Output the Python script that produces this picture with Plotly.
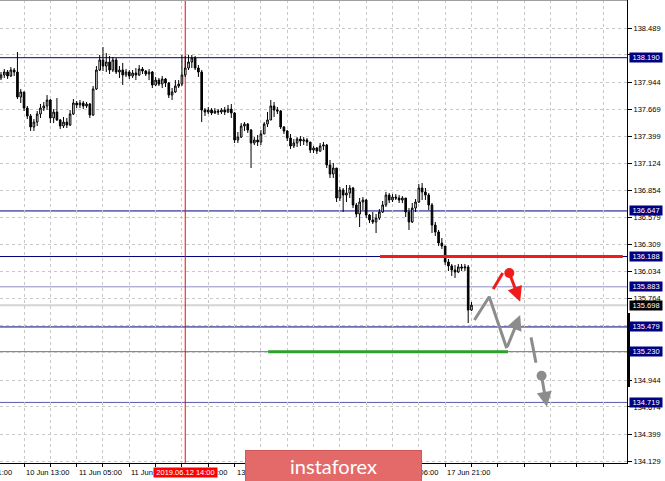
import plotly.graph_objects as go

# ---------------- data ----------------
first_open = 137.986
closes = [138.016, 138.046, 138.006, 138.066, 138.046, 137.794, 137.845, 137.683, 137.603, 137.492,
          137.542, 137.623, 137.683, 137.704, 137.764, 137.583, 137.643, 137.563, 137.502, 137.542,
          137.512, 137.623, 137.734, 137.714, 137.734, 137.704, 137.724, 137.613, 137.875, 138.066,
          138.167, 138.106, 138.147, 138.066, 138.167, 138.046, 138.066, 138.016, 138.046, 138.006,
          138.036, 138.016, 138.076, 138.056, 138.026, 138.046, 137.915, 137.965, 137.925, 137.976,
          137.935, 137.814, 137.845, 137.905, 137.925, 138.016, 138.086, 138.147, 138.187, 138.086,
          138.046, 137.663, 137.643, 137.663, 137.633, 137.653, 137.643, 137.663, 137.643, 137.673,
          137.633, 137.361, 137.391, 137.502, 137.522, 137.462, 137.331, 137.361, 137.341, 137.422,
          137.522, 137.563, 137.704, 137.663, 137.653, 137.492, 137.452, 137.381, 137.301, 137.331,
          137.371, 137.351, 137.361, 137.341, 137.260, 137.281, 137.250, 137.301, 137.311, 137.110,
          137.019, 137.079, 136.777, 136.858, 136.807, 136.827, 136.878, 136.707, 136.616, 136.737,
          136.757, 136.606, 136.556, 136.536, 136.576, 136.636, 136.707, 136.807, 136.757, 136.787,
          136.777, 136.757, 136.777, 136.636, 136.536, 136.676, 136.737, 136.878, 136.838, 136.807,
          136.707, 136.505, 136.435, 136.324, 136.294, 136.133, 136.093, 136.052, 136.032, 136.083,
          136.072, 136.083, 135.649, 135.698]
highs = [138.046, 138.076, 138.066, 138.096, 138.086, 138.247, 137.875, 137.845, 137.704, 137.623,
         137.573, 137.653, 137.724, 137.744, 137.814, 137.774, 137.673, 137.784, 137.573, 137.593,
         137.583, 137.663, 137.774, 137.754, 137.764, 137.754, 137.744, 137.734, 137.905, 138.106,
         138.217, 138.298, 138.237, 138.207, 138.197, 138.187, 138.106, 138.137, 138.076, 138.066,
         138.066, 138.086, 138.116, 138.096, 138.066, 138.076, 138.056, 137.996, 137.986, 138.006,
         137.986, 137.945, 137.885, 137.965, 137.965, 138.217, 138.207, 138.217, 138.217, 138.207,
         138.116, 138.066, 137.683, 137.694, 137.683, 137.683, 137.673, 137.683, 137.694, 137.714,
         137.724, 137.643, 137.442, 137.532, 137.542, 137.532, 137.472, 137.391, 137.412, 137.462,
         137.542, 137.643, 137.764, 137.744, 137.694, 137.663, 137.502, 137.462, 137.422, 137.371,
         137.391, 137.401, 137.391, 137.381, 137.331, 137.301, 137.291, 137.331, 137.341, 137.321,
         137.160, 137.130, 137.079, 136.888, 136.878, 136.908, 136.908, 136.888, 136.727, 136.777,
         136.787, 136.767, 136.616, 136.636, 136.616, 136.666, 136.747, 136.838, 136.827, 136.817,
         136.817, 136.807, 136.797, 136.777, 136.676, 136.727, 136.767, 136.918, 136.928, 136.878,
         136.827, 136.727, 136.536, 136.455, 136.374, 136.294, 136.163, 136.113, 136.103, 136.113,
         136.113, 136.113, 136.103, 135.730]
lows = [137.965, 137.986, 137.976, 137.996, 138.006, 137.774, 137.734, 137.653, 137.573, 137.452,
        137.452, 137.502, 137.583, 137.653, 137.663, 137.532, 137.532, 137.553, 137.472, 137.482,
        137.482, 137.502, 137.613, 137.683, 137.683, 137.673, 137.683, 137.583, 137.603, 137.865,
        138.056, 138.056, 138.046, 138.026, 138.046, 138.026, 137.986, 137.915, 137.996, 137.976,
        137.986, 137.965, 138.006, 138.026, 138.006, 137.965, 137.885, 137.905, 137.905, 137.885,
        137.895, 137.784, 137.764, 137.835, 137.885, 137.905, 137.996, 138.066, 138.086, 138.066,
        137.996, 137.542, 137.603, 137.623, 137.613, 137.623, 137.613, 137.623, 137.613, 137.633,
        137.583, 137.331, 137.331, 137.381, 137.452, 137.432, 137.079, 137.311, 137.301, 137.311,
        137.422, 137.492, 137.563, 137.593, 137.623, 137.472, 137.422, 137.351, 137.271, 137.281,
        137.291, 137.301, 137.311, 137.301, 137.230, 137.230, 137.220, 137.240, 137.260, 137.079,
        136.979, 136.979, 136.737, 136.747, 136.636, 136.737, 136.777, 136.676, 136.586, 136.485,
        136.656, 136.576, 136.525, 136.516, 136.425, 136.556, 136.626, 136.687, 136.727, 136.737,
        136.757, 136.727, 136.727, 136.586, 136.455, 136.525, 136.636, 136.727, 136.757, 136.757,
        136.656, 136.425, 136.394, 136.294, 136.264, 136.103, 136.042, 135.992, 135.972, 136.022,
        136.042, 136.042, 135.518, 135.639]
opens = [first_open] + closes[:-1]
bars = list(range(len(closes)))

y_tick_vals = [138.489, 138.219, 137.944, 137.669, 137.399, 137.124, 136.854, 136.579, 136.309,
               136.034, 135.764, 135.494, 135.219, 134.944, 134.674, 134.399, 134.129]
y_tick_text = ["138.489", "", "137.944", "137.669", "137.399", "137.124", "136.854", "136.579",
               "136.309", "136.034", "135.764", "", "", "134.944", "134.674", "134.399", "134.129"]

x_label_bars = [-9, 7, 23, 39, 55, 71, 119, 135]
x_label_text = ["9 Jun 21:00", "10 Jun 13:00", "11 Jun 05:00", "11 Jun 21:00", "12 Jun 13:00",
                "13 Jun 05:00", "17 Jun 06:00", "17 Jun 21:00"]

levels = [138.190, 136.647, 136.188, 135.883, 135.479, 135.230, 134.719]
level_colors = ["#000080", "#000080", "#000080", "#8c8cc8", "#000080", "#6a6ab4", "#5a5aa8"]

current_price = 135.698
marker_bar = 56
marker_label = "2019.06.12 14:00"
logo_text = "instaforex"

resistance_price, resistance_from = 136.188, 115.2
support_price, support_from, support_to = 135.230, 81.2, 154.1

gray_path_x = [143.9, 148.4, 153.7]
gray_path_y = [135.549, 135.783, 135.264]
gray_arrow1 = (153.7, 135.264, 157.8, 135.599)
gray_seg = ([161.1, 162.6], [135.374, 135.119])
gray_dot = (164.3, 134.988)
gray_arrow2 = (164.3, 134.988, 165.9, 134.676)
red_seg = ([149.6, 152.5], [135.861, 136.022])
red_dot = (154.5, 136.022)
red_arrow = (154.5, 136.022, 157.8, 135.733)

# ---------------- figure ----------------
XMIN, XMAX = -0.304, 190.27
YMIN, YMAX = 134.109, 138.771
FONT = "Liberation Sans"
GRAY = "#8c8c8c"
RED = "#f01c1c"

highs = [max(h, o, c) for h, o, c in zip(highs, opens, closes)]
lows = [min(l, o, c) for l, o, c in zip(lows, opens, closes)]

fig = go.Figure()

shapes = []
for lv, col in zip(levels, level_colors):
    shapes.append(dict(type="line", xref="paper", x0=0, x1=1, yref="y", y0=lv, y1=lv,
                       line=dict(color=col, width=1), layer="below"))
shapes.append(dict(type="line", xref="paper", x0=0, x1=1, yref="y", y0=current_price, y1=current_price,
                   line=dict(color="#d4d4d4", width=2), layer="below"))
shapes.append(dict(type="line", xref="x", x0=marker_bar, x1=marker_bar, yref="paper", y0=0, y1=1,
                   line=dict(color="#ff0000", width=1), layer="below"))
shapes.append(dict(type="line", xref="x", x0=resistance_from, x1=189.0, yref="y",
                   y0=resistance_price, y1=resistance_price, line=dict(color=RED, width=3)))
shapes.append(dict(type="line", xref="x", x0=support_from, x1=support_to, yref="y",
                   y0=support_price, y1=support_price, line=dict(color="#2ca02c", width=3)))
# top border
shapes.append(dict(type="line", xref="paper", x0=0, x1=1, yref="paper", y0=1, y1=1,
                   line=dict(color="#a0a0a0", width=2)))
# black bar on the price scale
shapes.append(dict(type="line", xref="paper", x0=1 + 1.5 / 627, x1=1 + 1.5 / 627, yref="y",
                   y0=135.619, y1=134.874, line=dict(color="#000000", width=3)))

fig.add_trace(go.Candlestick(
    x=bars, open=opens, high=highs, low=lows, close=closes,
    increasing=dict(line=dict(color="#000000", width=1), fillcolor="#ffffff"),
    decreasing=dict(line=dict(color="#000000", width=1), fillcolor="#000000"),
    whiskerwidth=0, hoverinfo="skip", showlegend=False))

fig.add_trace(go.Scatter(x=gray_path_x, y=gray_path_y, mode="lines",
                         line=dict(color=GRAY, width=3), hoverinfo="skip", showlegend=False))
fig.add_trace(go.Scatter(x=gray_seg[0], y=gray_seg[1], mode="lines",
                         line=dict(color=GRAY, width=3), hoverinfo="skip", showlegend=False))
fig.add_trace(go.Scatter(x=red_seg[0], y=red_seg[1], mode="lines",
                         line=dict(color=RED, width=3), hoverinfo="skip", showlegend=False))
fig.add_trace(go.Scatter(x=[gray_dot[0]], y=[gray_dot[1]], mode="markers",
                         marker=dict(color=GRAY, size=10), hoverinfo="skip", showlegend=False))
fig.add_trace(go.Scatter(x=[red_dot[0]], y=[red_dot[1]], mode="markers",
                         marker=dict(color=RED, size=10), hoverinfo="skip", showlegend=False))

annotations = []
for (x0, y0, x1, y1), col in [(gray_arrow1, GRAY), (gray_arrow2, GRAY), (red_arrow, RED)]:
    annotations.append(dict(x=x1, y=y1, ax=x0, ay=y0, xref="x", yref="y", axref="x", ayref="y",
                            text="", showarrow=True, arrowhead=2, arrowsize=1, arrowwidth=3,
                            arrowcolor=col, standoff=0, startstandoff=0))

for lv in levels:
    annotations.append(dict(xref="paper", x=1, xanchor="left", xshift=2, yref="y", y=lv,
                            text=f"{lv:.3f}", showarrow=False, bgcolor="#000080",
                            font=dict(family=FONT, size=7.5, color="#ffffff"),
                            width=31, height=8, borderpad=0.5, align="center"))
annotations.append(dict(xref="paper", x=1, xanchor="left", xshift=2, yref="y", y=current_price,
                        text=f"{current_price:.3f}", showarrow=False, bgcolor="#000000",
                        font=dict(family=FONT, size=7.5, color="#ffffff"),
                        width=31, height=8, borderpad=0.5, align="center"))

for b, t in zip(x_label_bars, x_label_text):
    annotations.append(dict(xref="paper", x=(b - XMIN) / (XMAX - XMIN), xanchor="left",
                            yref="paper", y=-9 / 463, yanchor="middle", text=t, showarrow=False,
                            font=dict(family=FONT, size=7.5, color="#000000")))
annotations.append(dict(xref="x", x=marker_bar, xanchor="center", yref="paper", y=-9.5 / 463,
                        yanchor="middle", text=marker_label, showarrow=False, bgcolor="#ff0000",
                        font=dict(family=FONT, size=7.5, color="#ffffff"), width=62, height=8,
                        borderpad=0.5))
annotations.append(dict(xref="paper", x=333.5 / 627, xanchor="center", yref="paper",
                        y=-2.5 / 463, yanchor="middle", text=logo_text, showarrow=False,
                        bgcolor="#e46a6a", bordercolor="#d05858", borderwidth=1, borderpad=0,
                        width=175, height=30, valign="middle",
                        font=dict(family="Lato", size=20, color="#ffffff")))

fig.update_layout(
    width=665, height=481,
    margin=dict(l=0, r=38, t=0, b=18),
    paper_bgcolor="#ffffff", plot_bgcolor="#ffffff",
    shapes=shapes, annotations=annotations,
    showlegend=False, hovermode=False,
    xaxis=dict(range=[XMIN, XMAX], rangeslider=dict(visible=False), tickmode="array",
               tickvals=list(range(7, 190, 8)), ticktext=[""] * len(range(7, 190, 8)),
               ticks="outside", ticklen=3, tickcolor="#000000",
               showgrid=True, gridcolor="#c8c8c8", griddash="3px,3px", gridwidth=1,
               showline=True, linecolor="#000000", linewidth=1, zeroline=False, fixedrange=True),
    yaxis=dict(range=[YMIN, YMAX], side="right", tickmode="array", tickvals=y_tick_vals,
               ticktext=y_tick_text, ticks="outside", ticklen=4, tickcolor="#000000",
               tickfont=dict(family=FONT, size=7.5, color="#000000"),
               showgrid=True, gridcolor="#c8c8c8", griddash="3px,3px", gridwidth=1,
               showline=True, linecolor="#000000", linewidth=1, zeroline=False, fixedrange=True),
)

fig.write_html("out.html", config={"displayModeBar": False},
               post_script="document.body.style.margin='0';document.body.style.overflow='hidden';")
